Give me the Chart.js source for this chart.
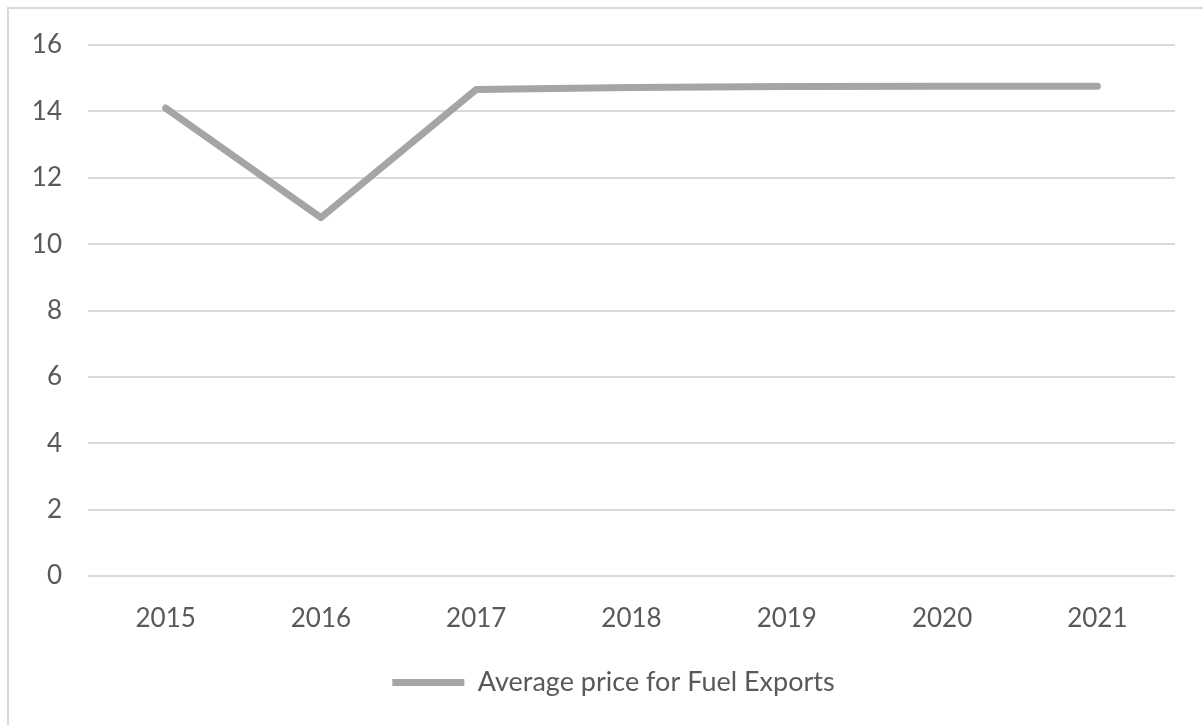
<!DOCTYPE html>
<html>
<head>
<meta charset="utf-8">
<script src="https://cdn.jsdelivr.net/npm/chart.js@4"></script>
<style>
  html, body { margin: 0; padding: 0; background: #fff; overflow: hidden; }
  #frame { position: absolute; left: 7px; top: 7px; width: 1400px; height: 900px; border: 2px solid #d9d9d9; }
  #wrap { position: absolute; left: 0; top: 0; width: 1203px; height: 725px; }
</style>
</head>
<body>
<div id="frame"></div>
<div id="wrap"><canvas id="myChart"></canvas></div>
<script>
const years = ['2015', '2016', '2017', '2018', '2019', '2020', '2021'];
const fuelPrice = [14.1, 10.8, 14.66, 14.72, 14.75, 14.76, 14.76];
const seriesName = 'Average price for Fuel Exports';

const textColor = '#595959';
const gridColor = '#d9d9d9';

const data = {
  labels: years,
  datasets: [
    {
      label: seriesName,
      data: fuelPrice,
      borderColor: '#a5a5a5',
      backgroundColor: '#a5a5a5',
      borderWidth: 7,
      borderCapStyle: 'round',
      borderJoinStyle: 'round',
      pointRadius: 0,
      pointHoverRadius: 0,
      tension: 0,
      fill: false,
    },
  ],
};

// nudge the legend right a bit so it sits where the original has it
const legendShift = {
  id: 'legendShift',
  afterLayout(chart) {
    chart.legend.left += 21;
    chart.legend.right += 21;
  },
};

const config = {
  type: 'line',
  data: data,
  plugins: [legendShift],
  options: {
    responsive: true,
    maintainAspectRatio: false,
    animation: false,
    layout: {
      padding: { left: 10, right: 28, top: 45, bottom: 19 },
    },
    plugins: {
      tooltip: { enabled: false },
      legend: {
        position: 'bottom',
        labels: {
          color: textColor,
          font: { family: 'Lato', size: 27 },
          usePointStyle: true,
          pointStyle: 'line',
          pointStyleWidth: 72,
          padding: 10,
        },
      },
    },
    scales: {
      x: {
        offset: true,
        grid: { display: false, drawTicks: false },
        border: { display: false },
        ticks: {
          color: textColor,
          font: { family: 'Lato', size: 26 },
          padding: 27,
        },
        afterFit: function (scale) { scale.height = 83; },
      },
      y: {
        min: 0,
        max: 16,
        ticks: {
          stepSize: 2,
          color: textColor,
          font: { family: 'Lato', size: 26 },
          padding: 26,
        },
        grid: { color: gridColor, lineWidth: 2, drawTicks: false },
        border: { display: false },
        afterFit: function (scale) { scale.width = 78; },
      },
    },
  },
};

var myChart = new Chart(document.getElementById('myChart'), config);
</script>
</body>
</html>
